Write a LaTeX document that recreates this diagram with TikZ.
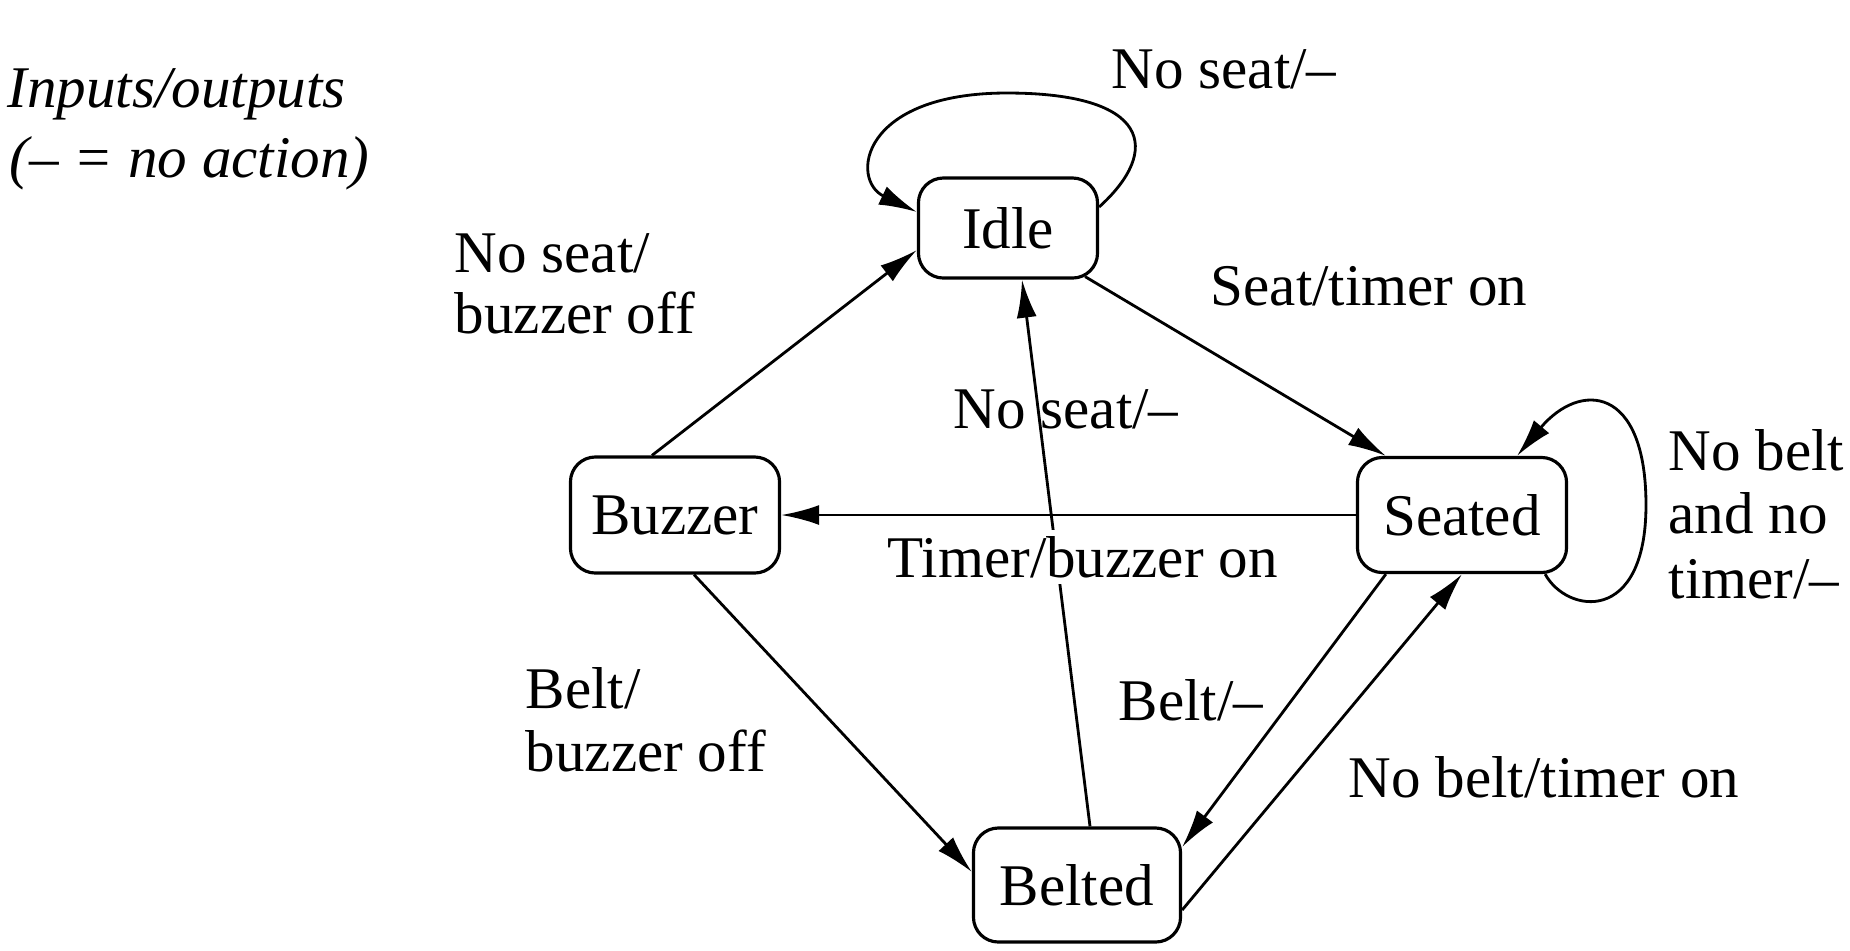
\documentclass[tikz,border=0pt]{standalone}
\usepackage{fontspec}
\setmainfont{Liberation Serif}
\usetikzlibrary{arrows.meta}
\begin{document}
\begin{tikzpicture}[x=0.01cm,y=-0.01cm,
  state/.style={draw, rounded corners=0.25cm, line width=0.9pt, inner sep=0pt, font=\fontsize{16.8}{18}\selectfont},
  lbl/.style={anchor=base west, inner sep=0pt, font=\fontsize{16.8}{18}\selectfont},
  note/.style={anchor=base west, inner sep=0pt, font=\fontsize{16.8}{18}\selectfont\itshape},
  arr/.style={line width=0.8pt, -{Latex[length=0.38cm,width=0.2cm]}},
]
\useasboundingbox (0,0) rectangle (1850,950);

% states
\node[state, minimum width=1.79cm, minimum height=1.00cm] (idle)   at (1008,228) {Idle};
\node[state, minimum width=2.09cm, minimum height=1.16cm] (buzzer) at (675,515)  {Buzzer};
\node[state, minimum width=2.09cm, minimum height=1.15cm] (seated) at (1462,515) {Seated};
\node[state, minimum width=2.07cm, minimum height=1.14cm] (belted) at (1077,885) {Belted};

% labels
\node[note] (n1) at (7,107) {Inputs/outputs};
\node[note] (n2) at (9,177) {(– = no action)};
\node[lbl] (l1)  at (1111,88)  {No seat/–};
\node[lbl] (l2a) at (454,272)  {No seat/};
\node[lbl] (l2b) at (454,333)  {buzzer off};
\node[lbl] (l3)  at (1210,305) {Seat/timer on};
\node[lbl] (l4)  at (953,428)  {No seat/–};
\node[lbl] (l5a) at (1668,470) {No belt};
\node[lbl] (l5b) at (1668,533) {and no};
\node[lbl] (l5c) at (1668,598) {timer/–};
\node[lbl] (l7a) at (525,708)  {Belt/};
\node[lbl] (l7b) at (525,771)  {buzzer off};
\node[lbl] (l8)  at (1118,720) {Belt/–};
\node[lbl] (l9)  at (1348,797) {No belt/timer on};

% loop helper points
\coordinate (idletop) at (1007,93);
\coordinate (seatright) at (1646,505);

% connectors
\draw[arr] ([xshift=-0.23cm]buzzer.north) -- ([yshift=-0.22cm]idle.west);
\draw[arr] ([xshift=-0.14cm,yshift=0.03cm]idle.south east) -- ([xshift=0.30cm]seated.north west);
\draw[arr] (seated.west) -- (buzzer.east);
\draw[arr] ([xshift=0.13cm]belted.north) -- ([xshift=0.14cm]idle.south);
\draw[arr] ([xshift=0.19cm]buzzer.south) -- ([yshift=0.13cm]belted.west);
\draw[arr] ([xshift=0.30cm]seated.south west) -- ([yshift=0.38cm]belted.east);
\draw[arr] ([yshift=-0.25cm]belted.east) -- (seated.south);

% self loops
\draw[arr] ([yshift=0.21cm]idle.east) .. controls +(63,-57) and +(143,0) .. (idletop)
           .. controls +(-147,0) and +(-67,-32) .. ([yshift=0.16cm]idle.west);
\draw[arr] ([xshift=-0.23cm]seated.south east) .. controls +(22,40) and +(0,120) .. (seatright)
           .. controls +(0,-120) and +(63,-75) .. ([xshift=0.55cm]seated.north);

% label with white background, over the Belted-Idle line
\node[lbl, fill=white, inner ysep=0.06cm, inner xsep=0pt] (l6) at (887,577) {Timer/buzzer on};
\end{tikzpicture}
\end{document}
